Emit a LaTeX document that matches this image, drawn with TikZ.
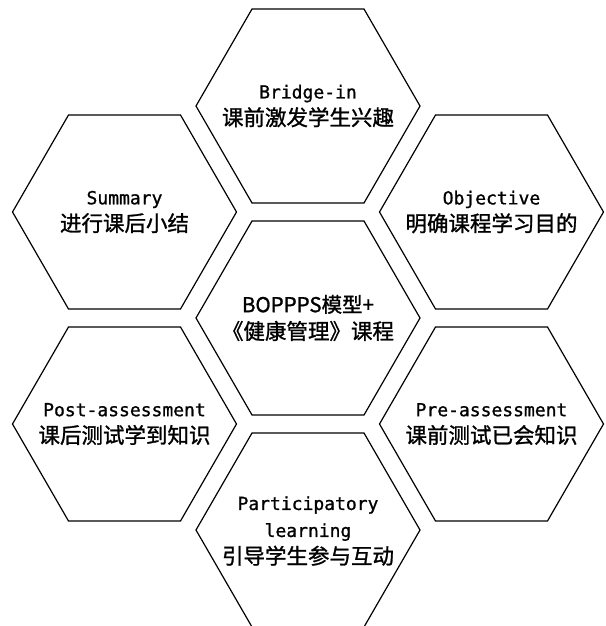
\documentclass[tikz,border=0pt]{standalone}
\usepackage{fontspec}
\setmainfont{Noto Sans CJK SC}[FakeBold=1.2]
\newfontfamily\latfont{DejaVu Sans Mono}[FakeBold=1.0]
\newcommand\latline[1]{{\latfont\fontsize{18}{27}\selectfont #1}}
\begin{document}
\begin{tikzpicture}[x=1pt,y=-1pt,
  txt/.style={align=center, inner sep=0pt, font=\fontsize{21.5}{27}\selectfont},
  hexline/.style={draw=black, line width=1.2pt, line join=miter}]
\fill[white] (0,0) rectangle (605,626);
\useasboundingbox (0,0) rectangle (605,626);
\node[txt] (bridge) at (308,106) {\latline{Bridge-in}\\课前激发学生兴趣};
\node[txt] (core) at (308,318) {\fontsize{20.5}{27}\selectfont BOPPPS模型+\\《健康管理》课程};
\node[txt] (partic) at (308,531) {\latline{Participatory}\\\latline{learning}\\引导学生参与互动};
\node[txt] (summary) at (124.5,212) {\latline{Summary}\\进行课后小结};
\node[txt] (objective) at (491.5,212) {\latline{Objective}\\明确课程学习目的};
\node[txt] (post) at (124.5,424) {\latline{Post-assessment}\\课后测试学到知识};
\node[txt] (pre) at (491.5,424) {\latline{Pre-assessment}\\课前测试已会知识};
\foreach \n/\cx/\cy in {bridge/308/106, core/308/318, partic/308/530, summary/124.5/212,
  objective/491.5/212, post/124.5/424, pre/491.5/424}{
  \draw[hexline, shift={(\cx,\cy)}] (-112,0) -- (-56,-97) -- (56,-97) -- (112,0)
    -- (56,97) -- (-56,97) -- cycle;
}
\end{tikzpicture}
\end{document}
